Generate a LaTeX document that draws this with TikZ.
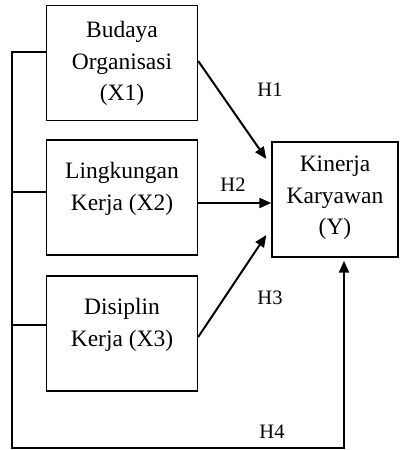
\documentclass[tikz,border=0pt]{standalone}
\usepackage{fontspec}
\setmainfont{Liberation Serif}
\usetikzlibrary{arrows.meta}

\begin{document}
\begin{tikzpicture}[x=1pt,y=-1pt,
        box/.style={draw, line width=1.4pt, minimum width=151pt, minimum height=115pt, inner sep=0pt},
        boxtext/.style={align=center, font=\fontsize{23.5}{31.5}\selectfont, inner sep=0pt},
        hlabel/.style={font=\fontsize{20.5}{24}\selectfont, inner sep=0pt},
        conn/.style={line width=2pt},
        arr/.style={line width=2pt, -{Triangle[length=12pt,width=10pt]}}]
        \useasboundingbox (0,0) rectangle (401,450);
        
        % variable boxes
        \node[box] (X1) at (122,63) {};
        \node[box] (X2) at (122,197.5) {};
        \node[box] (X3) at (122,333.5) {};
        \node[box, minimum width=126pt] (Y) at (335,199.5) {};
        
        \node[boxtext] (X1txt) at ([yshift=-0.5pt]X1.center) {Budaya\\Organisasi\\(X1)};
        \node[boxtext] (X2txt) at ([yshift=8.5pt]X2.center) {Lingkungan\\Kerja (X2)};
        \node[boxtext] (X3txt) at ([yshift=8.5pt]X3.center) {Disiplin\\Kerja (X3)};
        \node[boxtext] (Ytxt) at ([yshift=1.5pt]Y.center) {Kinerja\\Karyawan\\(Y)};
        
        % direct paths
        \draw[arr] ([yshift=2pt]X1.east) -- ([xshift=-5pt,yshift=40.5pt]Y.west);
        \draw[arr] ([yshift=-5.5pt]X2.east) -- ([yshift=-5.5pt]X2.east -| Y.west);
        \draw[arr] ([yshift=-3.5pt]X3.east) -- ([xshift=-5pt,yshift=-35.5pt]Y.west);
        
        % joint path
        \coordinate (H4a) at (12,448);
        \coordinate (H4b) at (344,448);
        \coordinate (H4c) at (H4b |- Y.south);
        \draw[conn] ([yshift=5.5pt]X2.west) -- ([yshift=5.5pt]X2.west -| H4a);
        \draw[conn] ([yshift=8.5pt]X3.west) -- ([yshift=8.5pt]X3.west -| H4a);
        \draw[arr] ([yshift=11pt]X1.west) -| (H4a) -- (H4b) -- ([yshift=-3pt]H4c);
        
        \node[hlabel] (H1) at (270,90) {H1};
        \node[hlabel] (H2) at (233,185) {H2};
        \node[hlabel] (H3) at (270,298) {H3};
        \node[hlabel] (H4) at (272,432) {H4};
    \end{tikzpicture}
\end{document}
